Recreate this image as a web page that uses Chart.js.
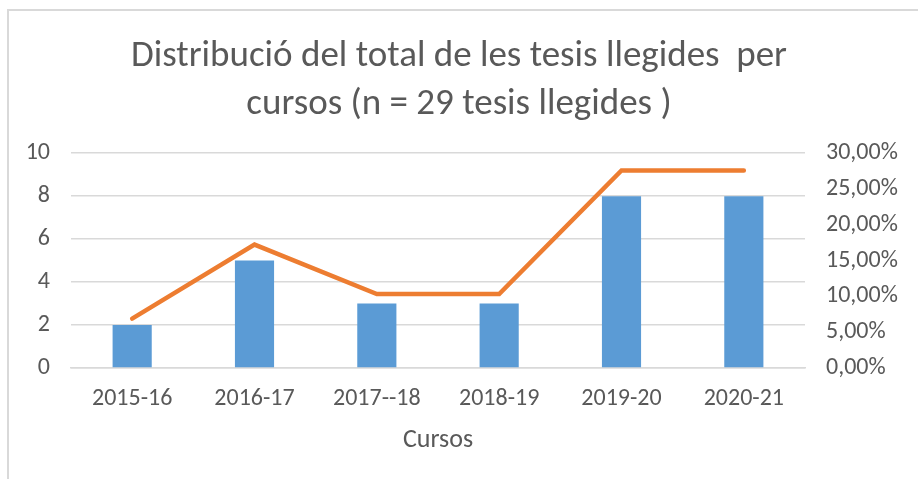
<!DOCTYPE html>
<html><head><meta charset="utf-8">
<script src="https://cdn.jsdelivr.net/npm/chart.js@4.4.0/dist/chart.umd.min.js"></script>
<style>
html,body{margin:0;padding:0;background:#fff;overflow:hidden;}
#frame{position:absolute;left:7px;top:9px;width:940px;height:500px;border-left:2px solid #d9d9d9;border-top:2px solid #d9d9d9;}
#wrap{position:absolute;left:0;top:0;width:918px;height:479px;}
</style></head>
<body>
<div id="frame"></div>
<div id="wrap"><canvas id="c" width="918" height="479"></canvas></div>
<script>
const categories = ['2015-16','2016-17','2017--18','2018-19','2019-20','2020-21'];
const tesis = [2,5,3,3,8,8];
const percent = [0.069,0.1724,0.1034,0.1034,0.2759,0.2759];
const titleLines = ['Distribució del total de les tesis llegides  per','cursos (n = 29 tesis llegides )'];
const xTitle = 'Cursos';

const FONT = 'Carlito, Lato, sans-serif';
const GREY = '#595959';
new Chart(document.getElementById('c'), {
  data: {
    labels: categories,
    datasets: [
      {type:'line', data: percent, yAxisID:'y1', borderColor:'#ED7D31', borderWidth:4.5, pointRadius:0, tension:0, order:0, borderCapStyle:'round'},
      {type:'bar', data: tesis, yAxisID:'y', backgroundColor:'#5B9BD5', barPercentage:0.32, categoryPercentage:1, order:1}
    ]
  },
  options: {
    responsive:false, animation:false,
    layout:{padding:{top:33,left:0,right:0,bottom:23}},
    plugins:{
      legend:{display:false}, tooltip:{enabled:false},
      title:{display:true, text:titleLines, color:GREY, font:{family:FONT,size:37,weight:'normal',lineHeight:1.3}, padding:{top:0,bottom:24}}
    },
    scales:{
      x:{
        grid:{display:false, drawTicks:false},
        border:{display:true,color:'#d9d9d9',width:1.5},
        ticks:{color:GREY,font:{family:FONT,size:24},padding:17,maxRotation:0},
        title:{display:true,text:xTitle,color:GREY,font:{family:FONT,size:26},padding:{top:-6,bottom:0}}
      },
      y:{
        position:'left', min:0, max:10,
        ticks:{stepSize:2,color:GREY,font:{family:FONT,size:24},padding:21},
        grid:{color:'#d9d9d9',lineWidth:1.5,drawTicks:false},
        border:{display:false},
        afterFit(s){ s.width = 71; }
      },
      y1:{
        position:'right', min:0, max:0.30,
        ticks:{stepSize:0.05,color:GREY,font:{family:FONT,size:24},padding:21,
          callback:v=>(v*100).toFixed(2).replace('.',',')+'%'},
        grid:{display:false,drawTicks:false},
        border:{display:false},
        afterFit(s){ s.width = 113; }
      }
    }
  }
});
</script>
</body></html>
